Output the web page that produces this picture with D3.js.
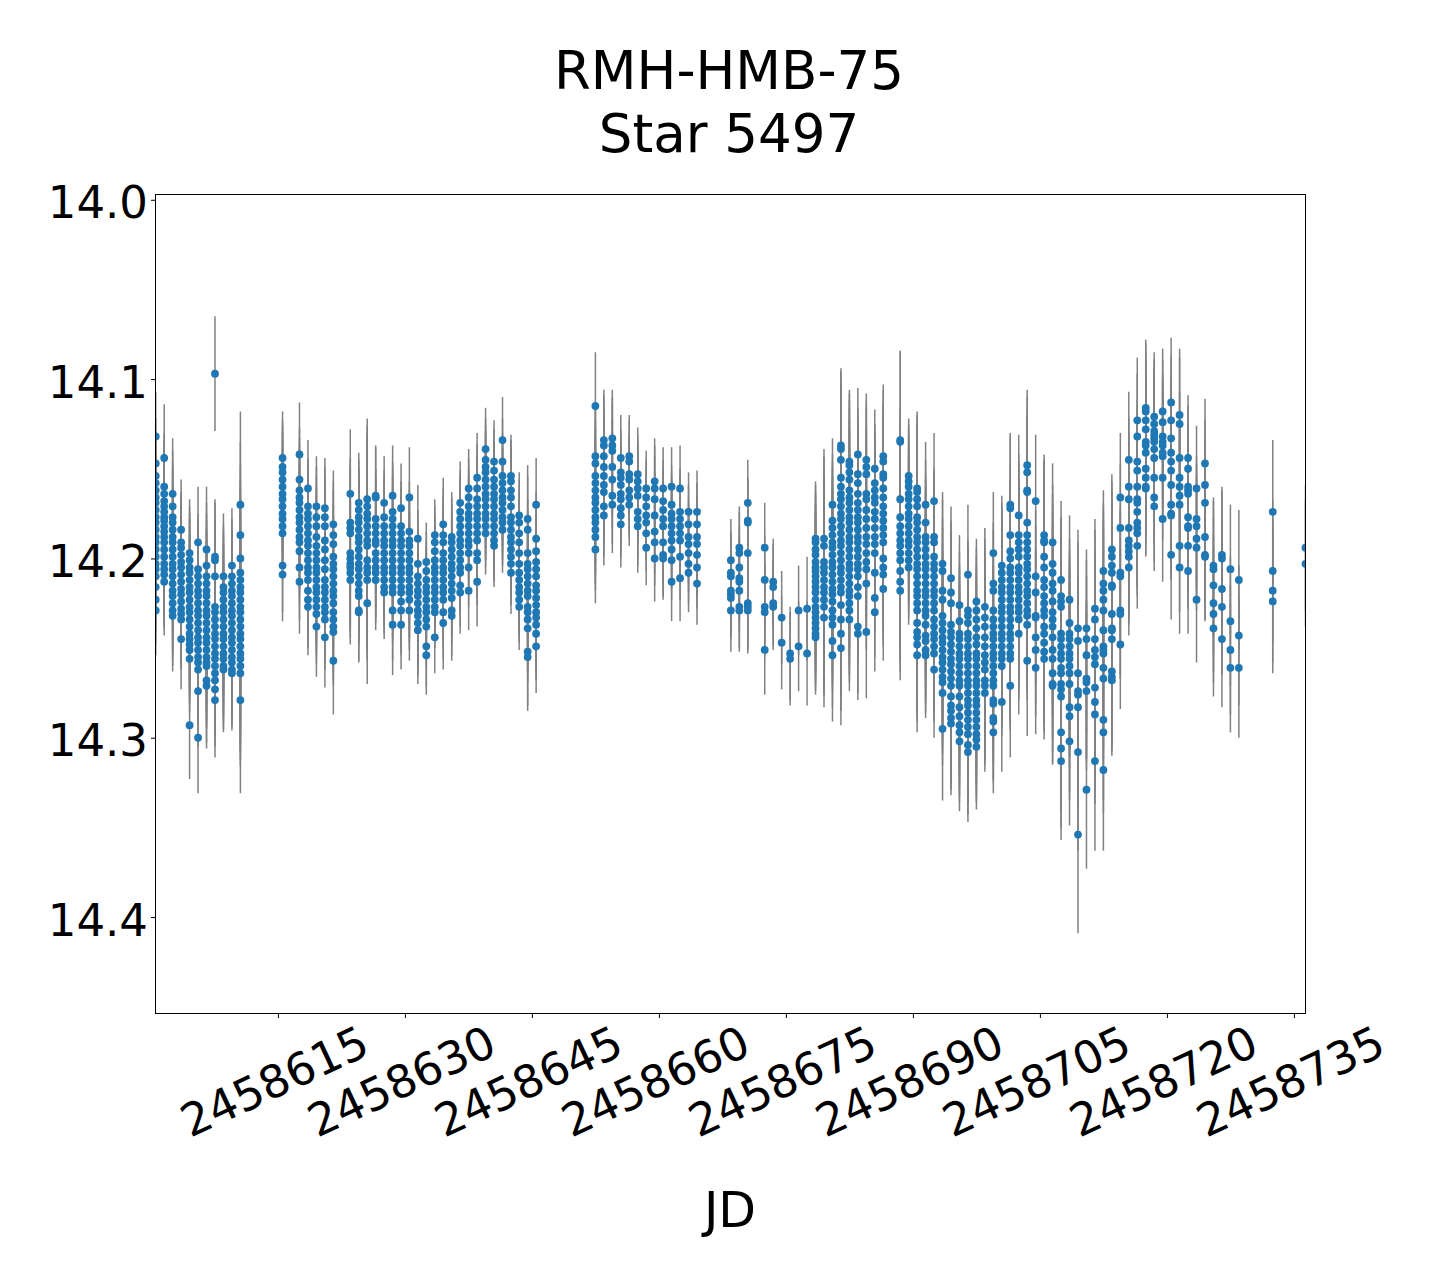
<!DOCTYPE html>
<html><head><meta charset="utf-8">
<script src="https://cdn.jsdelivr.net/npm/d3@7"></script>
<style>
html,body{margin:0;padding:0;background:#fff;}
svg{display:block;}
text{font-family:"DejaVu Sans",sans-serif;}
</style></head><body>
<svg id="chart" width="1440" height="1280"></svg>
<script>
// ---------- data ----------
const titleLines = ["RMH-HMB-75", "Star 5497"];
const xLabel = "JD";
const xTicks = [2458615, 2458630, 2458645, 2458660, 2458675, 2458690, 2458705, 2458720, 2458735];
const yTicks = [14.0, 14.1, 14.2, 14.3, 14.4];
const xDomain = [2458600.544, 2458736.37];
const yDomain = [13.99705, 14.45378];

// one entry per night (observing session)
const nightJD = [
  2458600.57, 2458601.57, 2458602.57, 2458603.57, 2458604.57, 2458605.57, 2458606.57, 2458607.57, 2458608.57, 2458609.57, 2458610.57,
  2458615.55, 2458617.55, 2458618.55, 2458619.55, 2458620.55, 2458621.55,
  2458623.55, 2458624.55, 2458625.55, 2458626.55, 2458627.55, 2458628.55, 2458629.55, 2458630.53, 2458631.53, 2458632.53, 2458633.53,
  2458634.53, 2458635.53, 2458636.53, 2458637.53, 2458638.53, 2458639.53, 2458640.53, 2458641.53, 2458642.53, 2458643.50, 2458644.50, 2458645.50,
  2458652.50, 2458653.50, 2458654.50, 2458655.50, 2458656.50, 2458657.50, 2458658.50, 2458659.50, 2458660.50, 2458661.50, 2458662.50, 2458663.50, 2458664.50,
  2458668.50, 2458669.50, 2458670.50,
  2458672.50, 2458673.50, 2458674.50, 2458675.50, 2458676.50, 2458677.50, 2458678.50, 2458679.50, 2458680.50, 2458681.50, 2458682.50, 2458683.50, 2458684.50, 2458685.50, 2458686.50,
  2458688.50, 2458689.50, 2458690.50, 2458691.50, 2458692.50, 2458693.50, 2458694.50, 2458695.50, 2458696.50, 2458697.50, 2458698.50, 2458699.50, 2458700.50, 2458701.50,
  2458702.50, 2458703.50, 2458704.50, 2458705.50, 2458706.50, 2458707.50, 2458708.50, 2458709.50, 2458710.50, 2458711.50, 2458712.50, 2458713.50, 2458714.50,
  2458715.50, 2458716.50, 2458717.50, 2458718.50, 2458719.50, 2458720.50, 2458721.50, 2458722.50, 2458723.50, 2458724.50, 2458725.50, 2458726.50, 2458727.50, 2458728.50,
  2458732.50, 2458736.37
];

const nightErr = [
  0.025, 0.030, 0.031, 0.028, 0.030, 0.031, 0.035, 0.032, 0.035, 0.032, 0.052,
  0.026, 0.029, 0.027, 0.028, 0.028, 0.030,
  0.036, 0.028, 0.045, 0.028, 0.026, 0.028, 0.025, 0.028, 0.030, 0.022, 0.020,
  0.026, 0.025, 0.023, 0.022, 0.025, 0.023, 0.023, 0.024, 0.023, 0.024, 0.030, 0.026,
  0.030, 0.028, 0.027, 0.024, 0.023, 0.026, 0.021, 0.024, 0.023, 0.022, 0.024, 0.022, 0.023,
  0.023, 0.023, 0.024,
  0.025, 0.024, 0.026, 0.026, 0.025, 0.029, 0.032, 0.050, 0.037, 0.043, 0.040, 0.037, 0.037, 0.033, 0.040,
  0.050, 0.032, 0.043, 0.035, 0.038, 0.040, 0.040, 0.039, 0.039, 0.035, 0.044, 0.034, 0.039, 0.040,
  0.045, 0.042, 0.037, 0.045, 0.044, 0.044, 0.047, 0.055, 0.044, 0.050, 0.045, 0.042, 0.036,
  0.038, 0.035, 0.038, 0.036, 0.035, 0.036, 0.037, 0.035, 0.035, 0.036, 0.038, 0.038, 0.036, 0.039,
  0.040, 0.035
];

const nightMags = [
  [14.132,14.147,14.154,14.158,14.162,14.166,14.169,14.173,14.177,14.180,14.184,14.188,14.191,14.195,14.199,14.203,14.206,14.210,14.216,14.223,14.229],
  [14.144,14.160,14.164,14.168,14.171,14.174,14.177,14.179,14.182,14.185,14.188,14.191,14.195,14.199,14.203,14.206,14.209,14.213],
  [14.164,14.171,14.177,14.180,14.184,14.188,14.191,14.195,14.199,14.203,14.206,14.210,14.214,14.218,14.221,14.225,14.229,14.232],
  [14.184,14.191,14.194,14.198,14.202,14.205,14.209,14.213,14.217,14.220,14.224,14.228,14.231,14.234,14.245],
  [14.197,14.201,14.205,14.208,14.212,14.216,14.219,14.223,14.227,14.230,14.234,14.238,14.242,14.245,14.248,14.251,14.256,14.293],
  [14.191,14.206,14.210,14.214,14.218,14.221,14.225,14.229,14.232,14.236,14.240,14.244,14.247,14.251,14.255,14.258,14.262,14.274,14.300],
  [14.195,14.204,14.210,14.214,14.218,14.221,14.225,14.229,14.232,14.236,14.240,14.244,14.247,14.251,14.255,14.258,14.260,14.268,14.271],
  [14.097,14.199,14.201,14.210,14.227,14.230,14.234,14.238,14.242,14.245,14.249,14.253,14.256,14.260,14.264,14.268,14.273,14.279],
  [14.210,14.216,14.219,14.223,14.227,14.230,14.234,14.238,14.242,14.245,14.249,14.253,14.256,14.260,14.262],
  [14.204,14.210,14.214,14.218,14.221,14.225,14.229,14.232,14.236,14.240,14.244,14.247,14.251,14.255,14.258,14.262,14.264],
  [14.170,14.187,14.200,14.208,14.212,14.216,14.219,14.223,14.227,14.230,14.234,14.238,14.242,14.245,14.249,14.253,14.256,14.260,14.264,14.279],
  // 615 - 621
  [14.144,14.149,14.152,14.156,14.160,14.164,14.167,14.171,14.175,14.178,14.182,14.186,14.204,14.209],
  [14.142,14.156,14.162,14.166,14.169,14.173,14.177,14.180,14.184,14.188,14.191,14.196,14.205,14.213],
  [14.161,14.171,14.175,14.178,14.182,14.186,14.190,14.193,14.197,14.201,14.205,14.208,14.212,14.218,14.223,14.227],
  [14.171,14.177,14.182,14.188,14.193,14.197,14.201,14.205,14.208,14.212,14.216,14.219,14.223,14.227,14.231,14.238],
  [14.172,14.177,14.182,14.190,14.195,14.201,14.206,14.212,14.216,14.219,14.223,14.227,14.230,14.234,14.244],
  [14.181,14.187,14.192,14.199,14.203,14.206,14.210,14.214,14.218,14.221,14.225,14.230,14.234,14.238,14.241,14.257],
  // 623 - 645
  [14.164,14.180,14.183,14.186,14.197,14.200,14.203,14.205,14.208,14.212],
  [14.169,14.173,14.177,14.180,14.184,14.188,14.191,14.195,14.199,14.203,14.206,14.210,14.214,14.218,14.221,14.229,14.230],
  [14.167,14.171,14.175,14.178,14.182,14.186,14.190,14.193,14.201,14.205,14.208,14.212,14.225],
  [14.165,14.166,14.178,14.182,14.186,14.190,14.192,14.197,14.201,14.205,14.208,14.212],
  [14.169,14.177,14.182,14.186,14.190,14.193,14.197,14.201,14.205,14.208,14.212,14.216,14.219],
  [14.165,14.174,14.178,14.182,14.186,14.190,14.193,14.197,14.201,14.205,14.208,14.212,14.216,14.219,14.229,14.237],
  [14.172,14.182,14.186,14.190,14.193,14.197,14.201,14.205,14.208,14.212,14.216,14.219,14.224,14.229,14.237],
  [14.166,14.185,14.190,14.193,14.197,14.201,14.205,14.208,14.212,14.216,14.219,14.223,14.229],
  [14.189,14.203,14.210,14.214,14.218,14.221,14.225,14.229,14.232,14.236,14.240],
  [14.202,14.207,14.212,14.216,14.219,14.223,14.227,14.230,14.234,14.238,14.249,14.254],
  [14.187,14.191,14.196,14.201,14.205,14.208,14.212,14.216,14.219,14.223,14.227,14.230,14.244],
  [14.181,14.187,14.191,14.197,14.201,14.205,14.208,14.212,14.216,14.219,14.223,14.230,14.236],
  [14.188,14.191,14.195,14.199,14.203,14.206,14.210,14.214,14.218,14.222,14.229,14.232],
  [14.169,14.174,14.178,14.182,14.186,14.190,14.193,14.197,14.201,14.205,14.208,14.215,14.219],
  [14.161,14.166,14.171,14.175,14.178,14.182,14.186,14.190,14.193,14.197,14.205,14.218],
  [14.155,14.161,14.167,14.171,14.175,14.178,14.182,14.186,14.190,14.197,14.201,14.213],
  [14.139,14.145,14.149,14.152,14.156,14.160,14.164,14.167,14.171,14.175,14.178,14.182,14.186],
  [14.146,14.151,14.156,14.160,14.164,14.167,14.171,14.175,14.178,14.182,14.186,14.190,14.193],
  [14.134,14.146,14.154,14.158,14.162,14.166,14.169,14.173,14.177,14.180,14.184],
  [14.154,14.157,14.162,14.166,14.171,14.177,14.180,14.184,14.188,14.191,14.195,14.199,14.203,14.208],
  [14.176,14.180,14.186,14.191,14.197,14.203,14.208,14.212,14.216,14.219,14.223,14.227],
  [14.178,14.184,14.197,14.203,14.206,14.210,14.214,14.218,14.221,14.227,14.230,14.234,14.239,14.252,14.255],
  [14.170,14.189,14.196,14.202,14.206,14.210,14.215,14.218,14.222,14.226,14.230,14.233,14.237,14.242,14.249],
  // 652 - 664
  [14.115,14.143,14.147,14.154,14.158,14.162,14.166,14.169,14.173,14.177,14.180,14.184,14.188,14.195],
  [14.134,14.137,14.143,14.149,14.154,14.159,14.163,14.171,14.176],
  [14.133,14.137,14.140,14.149,14.156,14.165,14.170],
  [14.144,14.152,14.155,14.159,14.164,14.167,14.172,14.176,14.181],
  [14.143,14.146,14.153,14.156,14.162,14.166,14.170],
  [14.153,14.157,14.161,14.165,14.174,14.178,14.182],
  [14.161,14.166,14.171,14.176,14.180,14.186,14.194],
  [14.157,14.161,14.167,14.176,14.185,14.191,14.200],
  [14.161,14.168,14.173,14.178,14.182,14.191,14.198,14.200],
  [14.160,14.170,14.175,14.178,14.182,14.186,14.190,14.195,14.201,14.213],
  [14.161,14.174,14.178,14.182,14.186,14.190,14.199,14.211],
  [14.174,14.181,14.188,14.192,14.197,14.203,14.208],
  [14.174,14.181,14.188,14.192,14.198,14.205,14.214],
  // 668 - 670
  [14.201,14.208,14.210,14.218,14.220,14.222,14.229],
  [14.194,14.197,14.205,14.211,14.213,14.218,14.227,14.229],
  [14.169,14.179,14.180,14.197,14.225,14.227,14.229],
  // 672 - 686
  [14.194,14.212,14.227,14.230,14.251],
  [14.213,14.216,14.225,14.227],
  [14.233,14.247],
  [14.253,14.256],
  [14.229,14.249],
  [14.228,14.253],
  [14.189,14.191,14.195,14.198,14.202,14.205,14.207,14.210,14.213,14.216,14.219,14.223,14.227,14.230,14.233,14.236,14.239,14.242,14.244],
  [14.189,14.193,14.202,14.205,14.208,14.212,14.216,14.219,14.223,14.227,14.233],
  [14.170,14.179,14.183,14.187,14.191,14.194,14.198,14.202,14.205,14.209,14.213,14.217,14.220,14.224,14.229,14.233,14.237,14.246,14.254],
  [14.137,14.139,14.145,14.155,14.160,14.164,14.167,14.171,14.175,14.178,14.182,14.186,14.190,14.193,14.197,14.201,14.205,14.208,14.212,14.216,14.219,14.226,14.234,14.242,14.250],
  [14.146,14.148,14.152,14.156,14.162,14.166,14.169,14.173,14.177,14.180,14.184,14.188,14.191,14.195,14.199,14.203,14.206,14.210,14.214,14.218,14.221,14.225,14.229,14.234],
  [14.142,14.153,14.158,14.164,14.169,14.173,14.177,14.180,14.184,14.188,14.191,14.195,14.199,14.203,14.206,14.210,14.216,14.221,14.238,14.242],
  [14.145,14.149,14.153,14.164,14.167,14.173,14.178,14.183,14.188,14.192,14.197,14.202,14.206,14.214,14.241],
  [14.150,14.158,14.162,14.166,14.169,14.174,14.178,14.183,14.188,14.192,14.197,14.208,14.222,14.230],
  [14.143,14.146,14.153,14.155,14.161,14.166,14.171,14.175,14.179,14.183,14.187,14.191,14.200,14.205,14.209,14.217],
  // 688 - 701
  [14.134,14.135,14.167,14.177,14.182,14.186,14.190,14.193,14.197,14.201,14.207,14.213,14.218],
  [14.154,14.157,14.160,14.164,14.167,14.171,14.175,14.178,14.182,14.186,14.190,14.193,14.197,14.201,14.205],
  [14.161,14.163,14.167,14.171,14.177,14.180,14.184,14.188,14.191,14.195,14.199,14.203,14.206,14.210,14.214,14.218,14.221,14.225,14.229,14.236,14.241,14.244,14.248,14.254],
  [14.170,14.180,14.188,14.191,14.195,14.199,14.203,14.206,14.210,14.214,14.218,14.221,14.225,14.229,14.232,14.237,14.243,14.246,14.251,14.254],
  [14.168,14.188,14.191,14.199,14.203,14.206,14.210,14.214,14.218,14.221,14.225,14.229,14.234,14.238,14.242,14.245,14.249,14.253,14.262],
  [14.203,14.207,14.218,14.223,14.232,14.236,14.240,14.244,14.247,14.251,14.255,14.258,14.262,14.266,14.269,14.275,14.295],
  [14.211,14.219,14.225,14.237,14.241,14.244,14.248,14.252,14.256,14.259,14.263,14.267,14.271,14.277,14.282,14.285,14.289,14.292],
  [14.226,14.235,14.242,14.245,14.249,14.253,14.256,14.260,14.264,14.268,14.271,14.277,14.283,14.288,14.293,14.297,14.302],
  [14.209,14.229,14.232,14.236,14.242,14.245,14.249,14.253,14.256,14.260,14.264,14.268,14.271,14.275,14.279,14.282,14.286,14.290,14.294,14.298,14.304,14.308],
  [14.224,14.229,14.234,14.239,14.244,14.248,14.253,14.256,14.260,14.264,14.268,14.271,14.275,14.279,14.282,14.286,14.290,14.294,14.298,14.301,14.305],
  [14.227,14.233,14.238,14.244,14.249,14.254,14.258,14.262,14.268,14.271,14.275],
  [14.197,14.214,14.218,14.229,14.234,14.238,14.242,14.245,14.249,14.253,14.256,14.260,14.264,14.268,14.271,14.279,14.281,14.289,14.291,14.297],
  [14.204,14.208,14.212,14.216,14.219,14.223,14.227,14.230,14.234,14.238,14.242,14.245,14.249,14.253,14.256,14.260,14.280],
  [14.170,14.172,14.187,14.196,14.200,14.205,14.208,14.212,14.216,14.219,14.223,14.227,14.230,14.234,14.238,14.242,14.245,14.249,14.253,14.256,14.271],
  // 702 - 714
  [14.176,14.187,14.191,14.195,14.199,14.205,14.208,14.212,14.216,14.219,14.223,14.227,14.230,14.234,14.242],
  [14.148,14.152,14.162,14.163,14.180,14.187,14.191,14.195,14.199,14.203,14.206,14.210,14.214,14.218,14.221,14.225,14.229,14.232,14.237,14.257],
  [14.168,14.210,14.219,14.232,14.233,14.244,14.251,14.261],
  [14.187,14.190,14.191,14.199,14.205,14.212,14.216,14.221,14.225,14.229,14.232,14.238,14.242,14.247,14.252,14.256],
  [14.191,14.203,14.208,14.214,14.218,14.224,14.230,14.234,14.238,14.244,14.251,14.256,14.264,14.270,14.271],
  [14.212,14.221,14.224,14.227,14.242,14.245,14.249,14.253,14.256,14.261,14.264,14.270,14.273,14.277,14.297,14.306,14.313],
  [14.223,14.236,14.242,14.245,14.249,14.253,14.256,14.260,14.264,14.270,14.283,14.288,14.302],
  [14.239,14.246,14.264,14.274,14.276,14.283,14.308,14.354],
  [14.239,14.245,14.254,14.267,14.269,14.274,14.329],
  [14.228,14.234,14.245,14.251,14.255,14.259,14.272,14.280,14.287,14.313],
  [14.207,14.214,14.218,14.223,14.229,14.240,14.249,14.251,14.253,14.261,14.267,14.290,14.297,14.318],
  [14.195,14.199,14.204,14.208,14.215,14.216,14.231,14.239,14.240,14.245,14.263,14.266,14.268],
  [14.166,14.183,14.208,14.210,14.229,14.231,14.248],
  // 715 - 728
  [14.145,14.160,14.167,14.183,14.190,14.193,14.196,14.199,14.205],
  [14.123,14.132,14.146,14.151,14.160,14.167,14.169,14.174,14.180,14.183,14.186,14.193],
  [14.116,14.118,14.123,14.128,14.135,14.137,14.141,14.150,14.155,14.160,14.161],
  [14.121,14.125,14.129,14.131,14.133,14.135,14.139,14.144,14.155,14.166,14.171],
  [14.118,14.124,14.132,14.135,14.137,14.141,14.143,14.155,14.178],
  [14.113,14.123,14.133,14.141,14.146,14.151,14.159,14.170,14.175,14.176,14.198],
  [14.120,14.125,14.144,14.155,14.160,14.165,14.170,14.193,14.205],
  [14.144,14.150,14.160,14.162,14.164,14.177,14.182,14.183,14.193,14.207],
  [14.161,14.178,14.182,14.189,14.194,14.223],
  [14.147,14.159,14.169,14.188,14.198,14.199],
  [14.204,14.206,14.215,14.225,14.231,14.239],
  [14.198,14.200,14.217,14.227,14.245],
  [14.206,14.235,14.251,14.261],
  [14.212,14.243,14.261],
  // 732, 736
  [14.174,14.207,14.218,14.224],
  [14.194,14.203]
];

// ---------- drawing ----------
const svg = d3.select("#chart");
const L = 155.5, R = 1305.5, T = 194.5, B = 1013.5;
const font = "DejaVu Sans";

svg.append("rect").attr("width", 1440).attr("height", 1280).attr("fill", "#fff");

const x = d3.scaleLinear().domain(xDomain).range([L, R]);
const y = d3.scaleLinear().domain(yDomain).range([T, B]);

const points = [];
nightJD.forEach((jd, i) => {
  (nightMags[i] || []).forEach(m => points.push({ jd: jd, mag: m, err: nightErr[i] }));
});

svg.append("defs").append("clipPath").attr("id", "plotclip")
  .append("rect").attr("x", L).attr("y", T).attr("width", R - L).attr("height", B - T);

const plot = svg.append("g").attr("clip-path", "url(#plotclip)");

plot.append("g").selectAll("line").data(points).join("line")
  .attr("x1", d => x(d.jd)).attr("x2", d => x(d.jd))
  .attr("y1", d => y(d.mag - d.err)).attr("y2", d => y(d.mag + d.err))
  .attr("stroke", "#808080").attr("stroke-width", 1.5);

plot.append("g").selectAll("circle").data(points).join("circle")
  .attr("cx", d => x(d.jd)).attr("cy", d => y(d.mag))
  .attr("r", 3.9).attr("fill", "#1f77b4");

// frame
svg.append("rect").attr("x", L).attr("y", T).attr("width", R - L).attr("height", B - T)
  .attr("fill", "none").attr("stroke", "#000").attr("stroke-width", 1);

// x axis
const gx = svg.append("g").attr("transform", `translate(0,${B})`)
  .call(d3.axisBottom(x).tickValues(xTicks).tickFormat(d3.format("d")).tickSize(4.5));
gx.attr("font-size", 45).attr("font-family", font);
gx.select(".domain").remove();
gx.selectAll(".tick line").attr("stroke", "#000").attr("stroke-width", 1);
gx.selectAll(".tick text")
  .attr("y", 0).attr("dy", "0.35em").attr("fill", "#000")
  .attr("text-anchor", "middle")
  .attr("transform", "translate(-4,68) rotate(-25)");

// y axis
const gy = svg.append("g").attr("transform", `translate(${L},0)`)
  .call(d3.axisLeft(y).tickValues(yTicks).tickFormat(d3.format(".1f")).tickSize(4.5).tickPadding(3));
gy.attr("font-size", 45).attr("font-family", font);
gy.select(".domain").remove();
gy.selectAll(".tick line").attr("stroke", "#000").attr("stroke-width", 1);
gy.selectAll(".tick text").attr("dy", "0.40em").attr("fill", "#000");

// title
svg.append("g").selectAll("text").data(titleLines).join("text")
  .attr("x", 729).attr("y", (d, i) => 89.3 + i * 62.4)
  .attr("text-anchor", "middle").attr("font-size", 53).attr("font-family", font)
  .attr("fill", "#000").text(d => d);

// x label
svg.append("text").attr("x", 730).attr("y", 1226.7)
  .attr("text-anchor", "middle").attr("font-size", 49).attr("font-family", font)
  .attr("fill", "#000").text(xLabel);
</script>
</body></html>
